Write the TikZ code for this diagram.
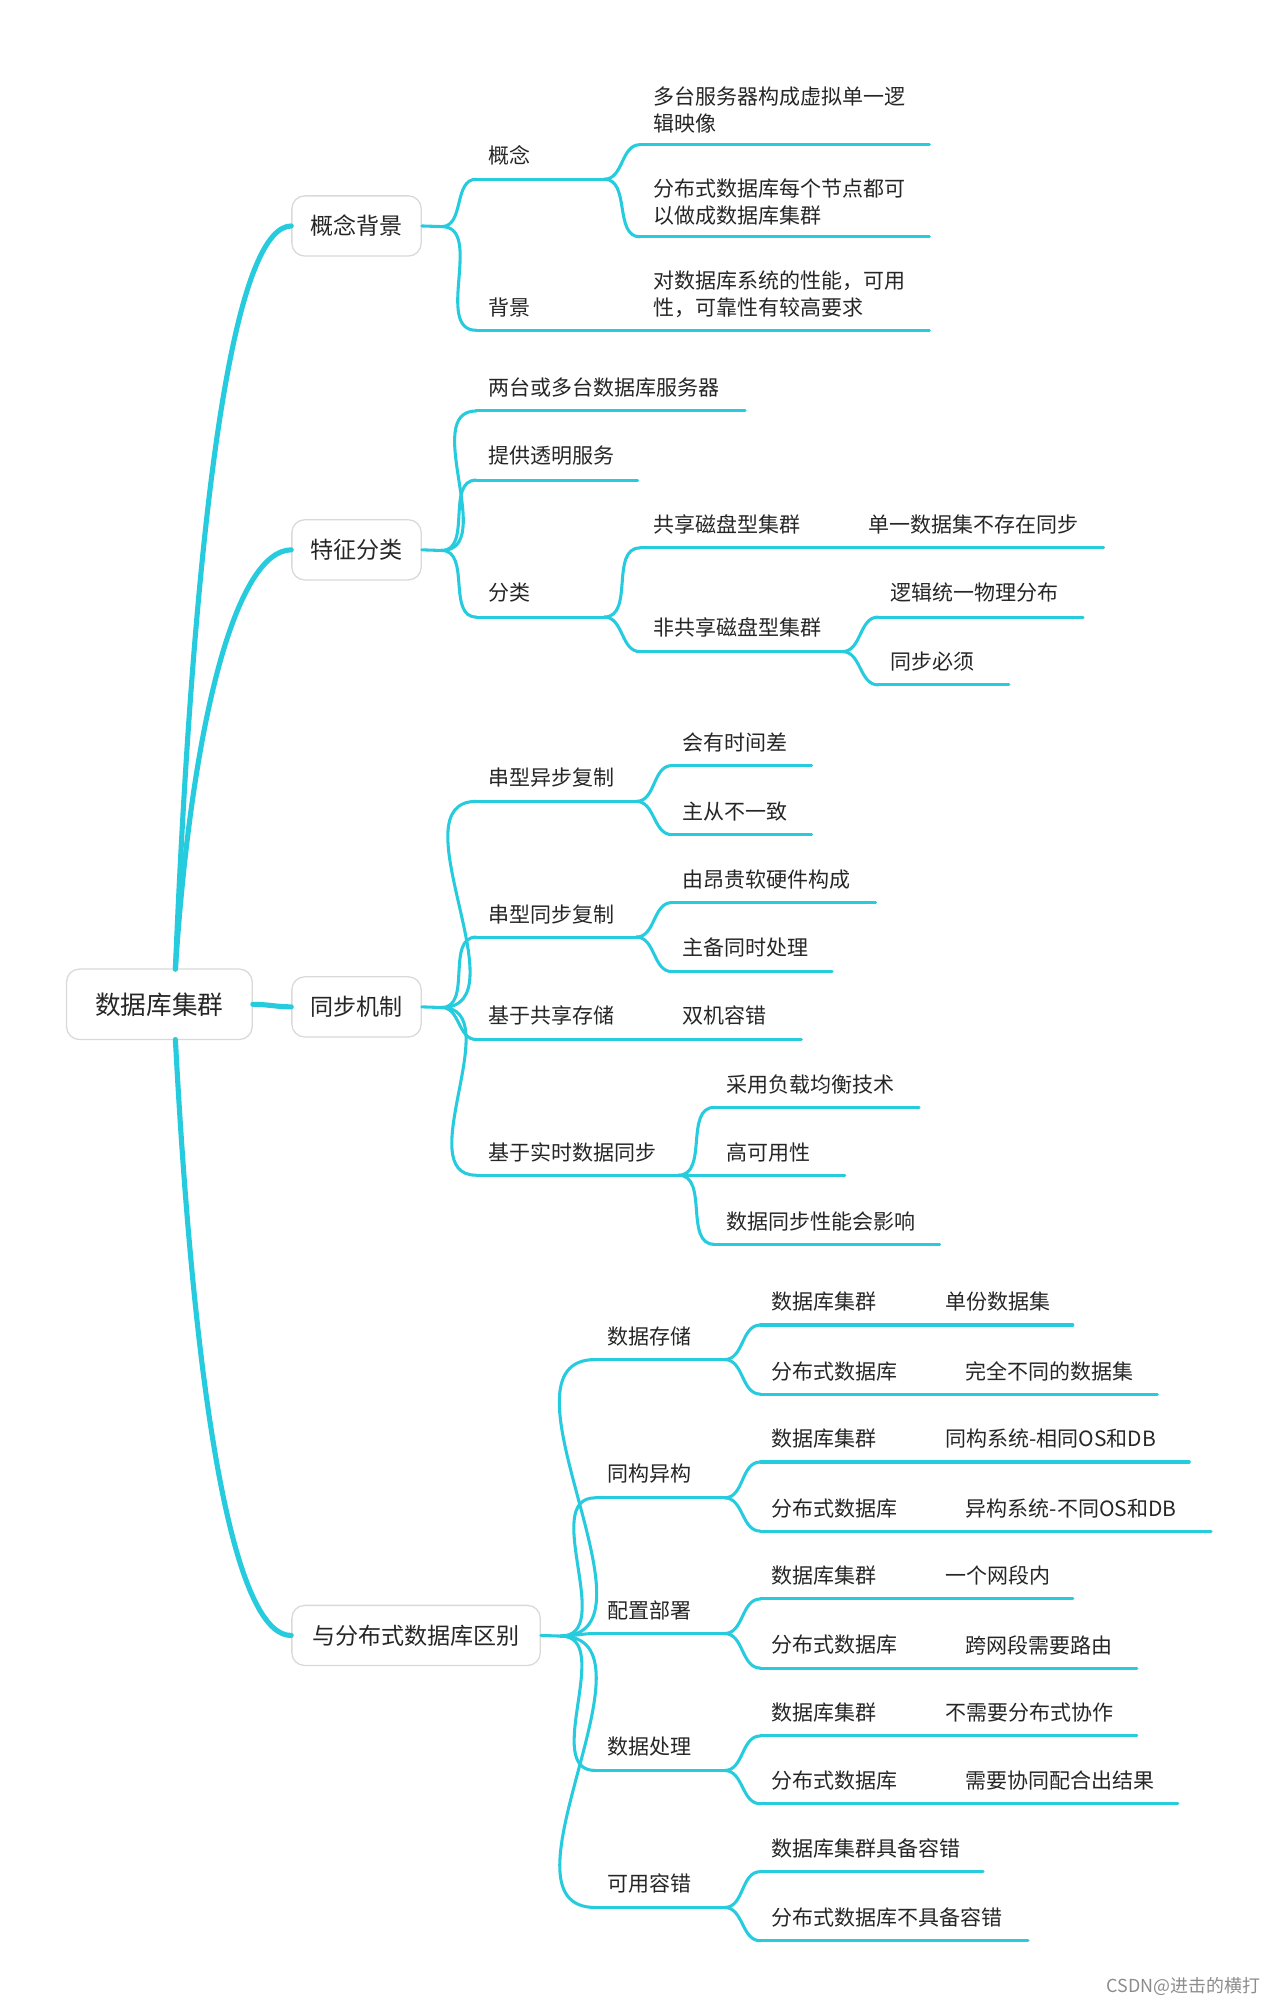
\documentclass[tikz,border=0pt]{standalone}
\usepackage{fontspec}
\setmainfont{Noto Sans CJK SC}
\begin{document}
\begin{tikzpicture}[x=0.5pt,y=-0.5pt,
  lv/.style={draw={rgb,255:red,38;green,204;blue,222},line width=1.2pt,line cap=round},
  rt/.style={draw={rgb,255:red,38;green,204;blue,222},line width=2pt,line cap=round},
  txt/.style={anchor=west,inner sep=0pt,font=\fontsize{8.2}{10.5}\selectfont,text=black!85,align=left},
  box/.style={draw=black!15,fill=white,rounded corners=5pt,line width=0.5pt,inner sep=0pt,text=black!85}]
\useasboundingbox (0,0) rectangle (1000,1574);
\newcommand\ul[4]{\coordinate (#1-s) at (#2,#4);\coordinate (#1-e) at (#3,#4);\draw[lv] (#1-s)--(#1-e);}
\newcommand\tx[4]{\node[txt] (#1) at (#2,#3) {#4};}
\newcommand\cv[2]{\draw[lv] (#1) to[out=0,in=180] (#2);}
% root
\node[box,minimum width=72.5pt,minimum height=27.5pt,font=\fontsize{10}{12}\selectfont] (root) at (124.5,784.5) {数据库集群};
\node[box,minimum width=50.5pt,minimum height=23.5pt,font=\fontsize{9}{11}\selectfont] (b1) at (278.5,176.5) {概念背景};
\node[box,minimum width=50.5pt,minimum height=23.5pt,font=\fontsize{9}{11}\selectfont] (b2) at (278.5,429.5) {特征分类};
\node[box,minimum width=50.5pt,minimum height=23.5pt,font=\fontsize{9}{11}\selectfont] (b3) at (278.5,786.5) {同步机制};
\node[box,minimum width=97pt,minimum height=23.5pt,font=\fontsize{9}{11}\selectfont] (b4) at (325,1277.5) {与分布式数据库区别};
\coordinate (r1) at (137,757);\coordinate (r2) at (137,812);
\draw[rt] (r1) .. controls (155,330) and (190,177) .. (b1.west);
\draw[rt] (r1) .. controls (150,560) and (185,430) .. (b2.west);
\draw[rt] (root.east) to[out=0,in=180] (b3.west);
\draw[rt] (r2) .. controls (155,1150) and (190,1278) .. (b4.west);
% box stubs
\coordinate (j1) at (345,177);\coordinate (j2) at (345,430);\coordinate (j3) at (345,787);\coordinate (j4) at (438,1278);
\draw[lv] (b1.east)--(j1);\draw[lv] (b2.east)--(j2);\draw[lv] (b3.east)--(j3);\draw[lv] (b4.east)--(j4);
% 概念背景
\ul{a1}{372}{472}{140}\tx{ta1}{381}{121}{概念}\cv{j1}{a1-s}
\ul{a11}{500}{726}{113}\tx{ta11}{510}{86}{多台服务器构成虚拟单一逻\\辑映像}\cv{a1-e}{a11-s}
\ul{a12}{500}{726}{185}\tx{ta12}{510}{158}{分布式数据库每个节点都可\\以做成数据库集群}\cv{a1-e}{a12-s}
\ul{a2}{372}{726}{258}\tx{ta2}{381}{240}{背景}\tx{ta21}{510}{230}{对数据库系统的性能，可用\\性，可靠性有较高要求}\cv{j1}{a2-s}
% 特征分类
\ul{c1}{372}{582}{321}\tx{tc1}{381}{303}{两台或多台数据库服务器}\cv{j2}{c1-s}
\ul{c2}{372}{498}{375}\tx{tc2}{381}{356}{提供透明服务}\cv{j2}{c2-s}
\ul{c3}{372}{472}{482}\tx{tc3}{381}{463}{分类}\cv{j2}{c3-s}
\ul{c31}{500}{862}{428}\tx{tc31}{510}{410}{共享磁盘型集群}\tx{tc31b}{678}{410}{单一数据集不存在同步}\cv{c3-e}{c31-s}
\ul{c32}{500}{658}{509}\tx{tc32}{510}{490}{非共享磁盘型集群}\cv{c3-e}{c32-s}
\ul{c321}{686}{846}{482}\tx{tc321}{695}{463}{逻辑统一物理分布}\cv{c32-e}{c321-s}
\ul{c322}{686}{788}{535}\tx{tc322}{695}{517}{同步必须}\cv{c32-e}{c322-s}
% 同步机制
\ul{d1}{372}{497}{626}\tx{td1}{381}{607}{串型异步复制}\cv{j3}{d1-s}
\ul{d11}{525}{634}{598}\tx{td11}{533}{580}{会有时间差}\cv{d1-e}{d11-s}
\ul{d12}{525}{634}{652}\tx{td12}{533}{634}{主从不一致}\cv{d1-e}{d12-s}
\ul{d2}{372}{497}{732}\tx{td2}{381}{714}{串型同步复制}\cv{j3}{d2-s}
\ul{d21}{525}{684}{705}\tx{td21}{533}{687}{由昂贵软硬件构成}\cv{d2-e}{d21-s}
\ul{d22}{525}{650}{759}\tx{td22}{533}{740}{主备同时处理}\cv{d2-e}{d22-s}
\ul{d3}{372}{626}{812}\tx{td3}{381}{793}{基于共享存储}\tx{td3b}{533}{793}{双机容错}\cv{j3}{d3-s}
\ul{d4}{372}{530}{918}\tx{td4}{381}{900}{基于实时数据同步}\cv{j3}{d4-s}
\ul{d41}{558}{718}{865}\tx{td41}{567}{847}{采用负载均衡技术}\cv{d4-e}{d41-s}
\ul{d42}{558}{660}{918}\tx{td42}{567}{900}{高可用性}\cv{d4-e}{d42-s}
\ul{d43}{558}{734}{972}\tx{td43}{567}{954}{数据同步性能会影响}\cv{d4-e}{d43-s}
% 区别
\ul{e1}{465}{566}{1062}\tx{te1}{474}{1044}{数据存储}\cv{j4}{e1-s}
\ul{e11}{594}{838}{1035}\tx{te11}{602}{1017}{数据库集群}\tx{te11b}{738}{1017}{单份数据集}\cv{e1-e}{e11-s}
\ul{e12}{594}{904}{1089}\tx{te12}{602}{1071}{分布式数据库}\tx{te12b}{754}{1071}{完全不同的数据集}\cv{e1-e}{e12-s}
\ul{e2}{465}{566}{1170}\tx{te2}{474}{1151}{同构异构}\cv{j4}{e2-s}
\ul{e21}{594}{929}{1142}\tx{te21}{602}{1124}{数据库集群}\tx{te21b}{738}{1124}{同构系统-相同OS和DB}\cv{e2-e}{e21-s}
\ul{e22}{594}{946}{1196}\tx{te22}{602}{1178}{分布式数据库}\tx{te22b}{754}{1178}{异构系统-不同OS和DB}\cv{e2-e}{e22-s}
\ul{e3}{465}{566}{1276}\tx{te3}{474}{1258}{配置部署}\cv{j4}{e3-s}
\ul{e31}{594}{838}{1249}\tx{te31}{602}{1231}{数据库集群}\tx{te31b}{738}{1231}{一个网段内}\cv{e3-e}{e31-s}
\ul{e32}{594}{888}{1303}\tx{te32}{602}{1285}{分布式数据库}\tx{te32b}{754}{1285}{跨网段需要路由}\cv{e3-e}{e32-s}
\ul{e4}{465}{566}{1383}\tx{te4}{474}{1364}{数据处理}\cv{j4}{e4-s}
\ul{e41}{594}{888}{1356}\tx{te41}{602}{1338}{数据库集群}\tx{te41b}{738}{1338}{不需要分布式协作}\cv{e4-e}{e41-s}
\ul{e42}{594}{920}{1409}\tx{te42}{602}{1391}{分布式数据库}\tx{te42b}{754}{1391}{需要协同配合出结果}\cv{e4-e}{e42-s}
\ul{e5}{465}{566}{1490}\tx{te5}{474}{1471}{可用容错}\cv{j4}{e5-s}
\ul{e51}{594}{768}{1462}\tx{te51}{602}{1444}{数据库集群具备容错}\cv{e5-e}{e51-s}
\ul{e52}{594}{803}{1516}\tx{te52}{602}{1498}{分布式数据库不具备容错}\cv{e5-e}{e52-s}
\node[anchor=east,inner sep=0pt,font=\fontsize{7}{8}\selectfont,text=black!45] (wm) at (985,1552) {CSDN@进击的横打};
\end{tikzpicture}
\end{document}
